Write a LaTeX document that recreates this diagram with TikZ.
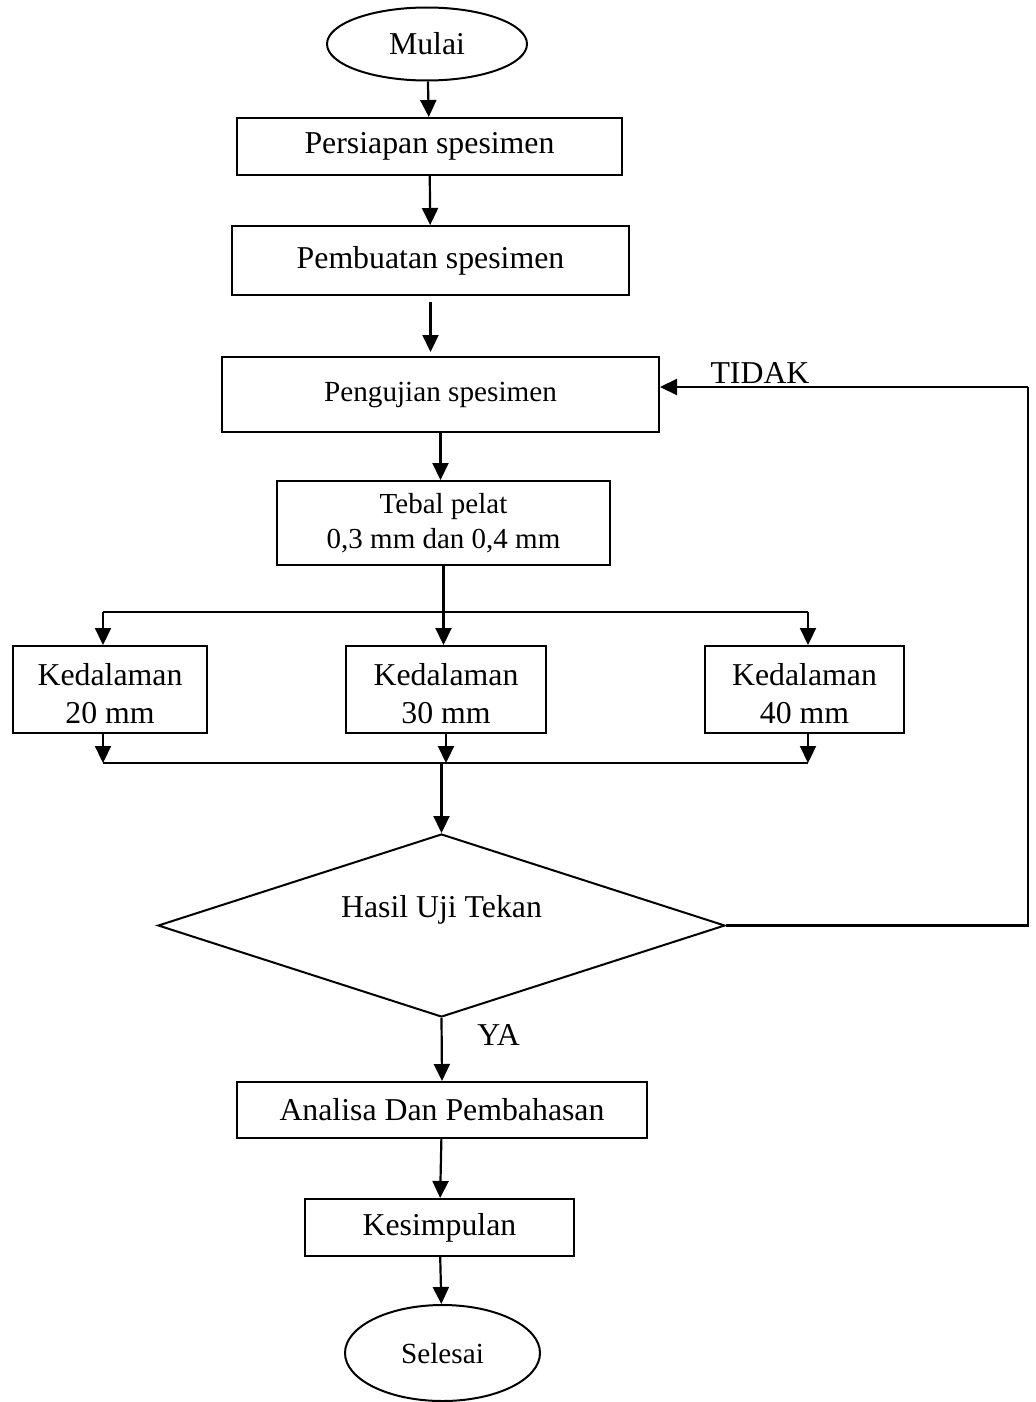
\documentclass[tikz,border=0pt]{standalone}
\usepackage{fontspec}
\setmainfont{Liberation Serif}
\usetikzlibrary{shapes.geometric,arrows.meta}

\begin{document}
\begin{tikzpicture}[x=0.5pt,y=-0.5pt,
	box/.style={draw,line width=1pt,rectangle,inner sep=0pt,align=center,font=\fontsize{15.9}{19}\selectfont},
	term/.style={draw,line width=1pt,ellipse,inner sep=0pt,font=\fontsize{15.9}{19}\selectfont},
	lbl/.style={inner sep=0pt,anchor=base,font=\fontsize{15.9}{19}\selectfont},
	arr/.style={line width=1.1pt,-{Triangle[width=8pt,length=8.5pt]}},
	ln/.style={line width=1.1pt}]
	\useasboundingbox (0,0) rectangle (1035,1402);
	\node[term,minimum width=100pt,minimum height=36.5pt] (mulai) at (427,44) {Mulai};
	\node[box,minimum width=192.5pt,minimum height=28.5pt] (persiapan) at (429.5,146.5) {Persiapan spesimen};
	\node[box,minimum width=198.5pt,minimum height=34.5pt] (pembuatan) at (430.5,260.5) {Pembuatan spesimen};
	\node[box,minimum width=218.5pt,minimum height=37.5pt,font=\fontsize{14.6}{17.5}\selectfont] (pengujian) at (440.5,394.5) {Pengujian spesimen};
	\node[box,minimum width=166.5pt,minimum height=42pt,font=\fontsize{14.5}{17.5}\selectfont] (tebal) at (443.5,523) {Tebal pelat\\0,3 mm dan 0,4 mm};
	\node[box,minimum width=97pt,minimum height=43.5pt] (k20) at (110,689.5) {\rule{0pt}{15pt}Kedalaman\\20 mm};
	\node[box,minimum width=100pt,minimum height=43.5pt] (k30) at (446,689.5) {\rule{0pt}{15pt}Kedalaman\\30 mm};
	\node[box,minimum width=99.5pt,minimum height=43.5pt] (k40) at (804.5,689.5) {\rule{0pt}{15pt}Kedalaman\\40 mm};
	\node[draw,line width=1pt,diamond,inner sep=0pt,minimum width=283.5pt,minimum height=91.5pt] (hasil) at (441.5,925.5) {};
	\node[lbl] (hasiltxt) at (441.5,917) {Hasil Uji Tekan};
	\node[lbl] (ya) at (498.5,1045) {YA};
	\node[lbl] (tidak) at (760,383) {TIDAK};
	\node[box,minimum width=205pt,minimum height=28pt] (analisa) at (442,1110) {Analisa Dan Pembahasan};
	\node[box,minimum width=134.5pt,minimum height=28.5pt] (kesimpulan) at (439.5,1227.5) {Kesimpulan};
	\node[term,minimum width=97.5pt,minimum height=48pt,font=\fontsize{14.6}{17.5}\selectfont] (selesai) at (442.5,1353) {Selesai};
	\coordinate (splitL) at (103,612);
	\coordinate (splitR) at (808,612);
	\coordinate (joinL) at (103,763);
	\coordinate (joinR) at (808,763);
	\coordinate (back) at (1028,387);
	\draw[arr] (mulai) -- (persiapan);
	\draw[arr] (persiapan) -- (pembuatan);
	\draw[arr,shorten <=3pt,shorten >=2pt] (pembuatan.south) -- (pembuatan.south |- pengujian.north);
	\draw[arr] (pengujian.south) -- (pengujian.south |- tebal.north);
	\draw[arr] (tebal.south) -- (tebal.south |- k30.north);
	\draw[ln] (splitL) -- (splitR);
	\draw[arr] (splitL) -- (splitL |- k20.north);
	\draw[arr] (splitR) -- (splitR |- k40.north);
	\draw[arr] (joinL |- k20.south) -- (joinL);
	\draw[arr] (k30.south) -- (k30.south |- joinL);
	\draw[arr] (joinR |- k40.south) -- (joinR);
	\draw[ln] (joinL) -- (joinR);
	\draw[arr] (joinL -| hasil.north) -- (hasil.north);
	\draw[ln] (hasil.east) -| (back);
	\draw[arr] (back) -- (back -| pengujian.east);
	\draw[arr] (hasil.south) -- (analisa.north);
	\draw[arr] (analisa) -- (kesimpulan);
	\draw[arr] (kesimpulan) -- (selesai);
\end{tikzpicture}
\end{document}
